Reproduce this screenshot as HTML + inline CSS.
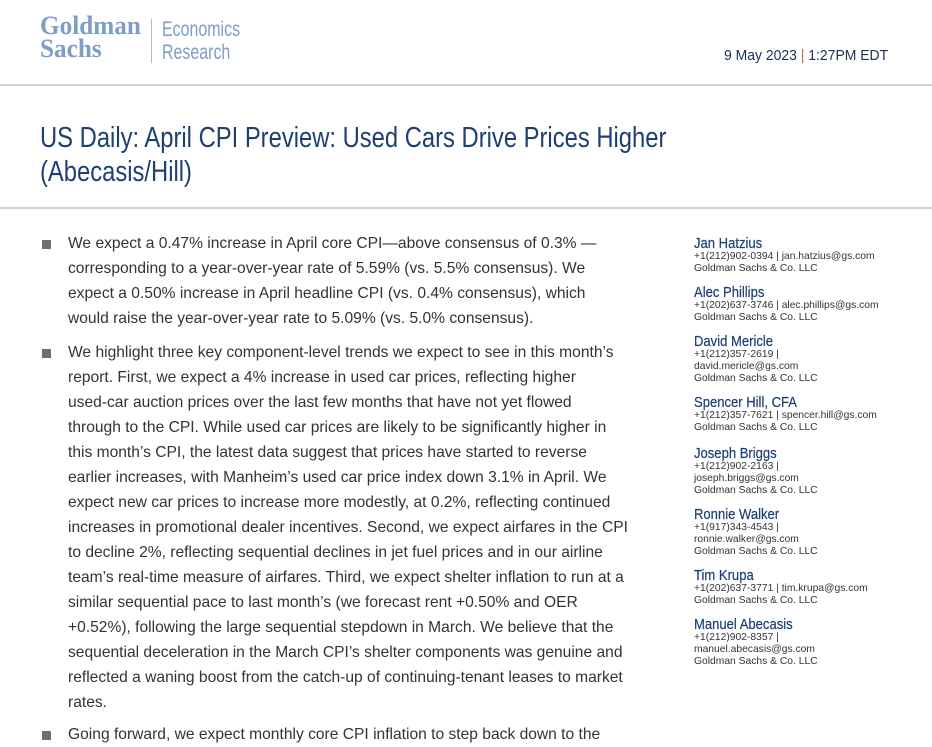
<!DOCTYPE html>
<html><head><meta charset="utf-8"><style>
body{margin:0;width:932px;height:747px;background:#fff;position:relative;overflow:hidden;font-family:"Liberation Sans",Arial,sans-serif}
.a{position:absolute;white-space:nowrap}
.l{left:68px;font-size:15.6px;color:#333;line-height:18px}
.b{position:absolute;left:42px;width:9px;height:9px;background:#6e6e6e}
.n{left:694px;font-size:14.5px;color:#1d3f73;line-height:16px;transform:scaleX(0.9);transform-origin:left;-webkit-text-stroke:0.2px #1d3f73}
.c{left:694px;font-size:10.3px;color:#333;line-height:12px}
.hr{position:absolute;left:0;width:932px;height:2px;background:#cfcfcf}
</style></head><body>
<div class="a" style="left:40px;top:14px;font-family:'Liberation Serif',serif;font-weight:bold;font-size:26px;line-height:23px;color:#7e9cc7;transform:scaleX(0.97);transform-origin:left">Goldman<br>Sachs</div>
<div class="a" style="left:151px;top:19px;width:1px;height:44px;background:#a9bcd8"></div>
<div class="a" style="left:162px;top:18px;font-size:21px;line-height:23px;color:#7e9cc7;transform:scaleX(0.76);transform-origin:left">Economics<br>Research</div>
<div class="a" style="left:724px;top:47px;font-size:15px;color:#1d2f4f;transform:scaleX(0.93);transform-origin:left">9 May 2023 <span style="color:#b0703a">|</span> 1:27PM EDT</div>
<div class="hr" style="top:84px"></div>
<div class="a" style="left:40px;top:121px;font-size:29px;line-height:34px;color:#1d3f73;transform:scaleX(0.82);transform-origin:left">US Daily: April CPI Preview: Used Cars Drive Prices Higher<br>(Abecasis/Hill)</div>
<div class="hr" style="top:207px"></div>

<div class="b" style="top:240px"></div>
<div class="a l" style="top:235px">We expect a 0.47% increase in April core CPI—above consensus of 0.3% —</div>
<div class="a l" style="top:260px">corresponding to a year-over-year rate of 5.59% (vs. 5.5% consensus). We</div>
<div class="a l" style="top:285px">expect a 0.50% increase in April headline CPI (vs. 0.4% consensus), which</div>
<div class="a l" style="top:310px">would raise the year-over-year rate to 5.09% (vs. 5.0% consensus).</div>
<div class="b" style="top:349px"></div>
<div class="a l" style="top:344px">We highlight three key component-level trends we expect to see in this month’s</div>
<div class="a l" style="top:369px">report. First, we expect a 4% increase in used car prices, reflecting higher</div>
<div class="a l" style="top:394px">used-car auction prices over the last few months that have not yet flowed</div>
<div class="a l" style="top:419px">through to the CPI. While used car prices are likely to be significantly higher in</div>
<div class="a l" style="top:444px">this month’s CPI, the latest data suggest that prices have started to reverse</div>
<div class="a l" style="top:469px">earlier increases, with Manheim’s used car price index down 3.1% in April. We</div>
<div class="a l" style="top:494px">expect new car prices to increase more modestly, at 0.2%, reflecting continued</div>
<div class="a l" style="top:519px">increases in promotional dealer incentives. Second, we expect airfares in the CPI</div>
<div class="a l" style="top:544px">to decline 2%, reflecting sequential declines in jet fuel prices and in our airline</div>
<div class="a l" style="top:569px">team’s real-time measure of airfares. Third, we expect shelter inflation to run at a</div>
<div class="a l" style="top:594px">similar sequential pace to last month’s (we forecast rent +0.50% and OER</div>
<div class="a l" style="top:619px">+0.52%), following the large sequential stepdown in March. We believe that the</div>
<div class="a l" style="top:644px">sequential deceleration in the March CPI’s shelter components was genuine and</div>
<div class="a l" style="top:669px">reflected a waning boost from the catch-up of continuing-tenant leases to market</div>
<div class="a l" style="top:694px">rates.</div>
<div class="b" style="top:731px"></div>
<div class="a l" style="top:726px">Going forward, we expect monthly core CPI inflation to step back down to the</div>

<div class="a n" style="top:236px">Jan Hatzius</div>
<div class="a c" style="top:251px">+1(212)902-0394 | jan.hatzius@gs.com<br>Goldman Sachs &amp; Co. LLC</div>
<div class="a n" style="top:285px">Alec Phillips</div>
<div class="a c" style="top:300px">+1(202)637-3746 | alec.phillips@gs.com<br>Goldman Sachs &amp; Co. LLC</div>
<div class="a n" style="top:334px">David Mericle</div>
<div class="a c" style="top:349px">+1(212)357-2619 |<br>david.mericle@gs.com<br>Goldman Sachs &amp; Co. LLC</div>
<div class="a n" style="top:395px">Spencer Hill, CFA</div>
<div class="a c" style="top:410px">+1(212)357-7621 | spencer.hill@gs.com<br>Goldman Sachs &amp; Co. LLC</div>
<div class="a n" style="top:446px">Joseph Briggs</div>
<div class="a c" style="top:461px">+1(212)902-2163 |<br>joseph.briggs@gs.com<br>Goldman Sachs &amp; Co. LLC</div>
<div class="a n" style="top:507px">Ronnie Walker</div>
<div class="a c" style="top:522px">+1(917)343-4543 |<br>ronnie.walker@gs.com<br>Goldman Sachs &amp; Co. LLC</div>
<div class="a n" style="top:568px">Tim Krupa</div>
<div class="a c" style="top:583px">+1(202)637-3771 | tim.krupa@gs.com<br>Goldman Sachs &amp; Co. LLC</div>
<div class="a n" style="top:617px">Manuel Abecasis</div>
<div class="a c" style="top:632px">+1(212)902-8357 |<br>manuel.abecasis@gs.com<br>Goldman Sachs &amp; Co. LLC</div>
</body></html>
